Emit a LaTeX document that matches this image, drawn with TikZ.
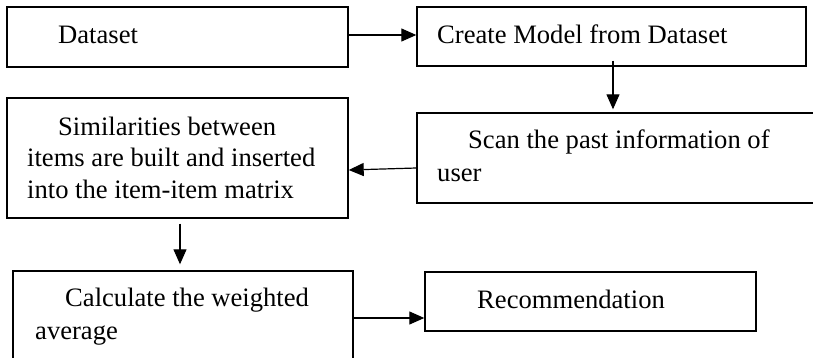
\documentclass[tikz,border=0pt]{standalone}
\usepackage{fontspec}
\setmainfont{Liberation Serif}
\usetikzlibrary{arrows.meta}

\tikzset{
  stepbox/.style={draw=black, line width=1.4pt, inner sep=0pt, minimum width=#1},
  boxtext/.style={anchor=base west, inner sep=0pt, font=\fontsize{26.6}{32}\selectfont},
  arr/.style={line width=1.2pt, -{Triangle[length=15pt,width=13pt]}}
}

\begin{document}
\begin{tikzpicture}[x=1pt, y=-1pt]
  \useasboundingbox (0,0) rectangle (813,357);
  \clip (0,0) rectangle (813,357);

  % process boxes
  \node[stepbox=341pt, minimum height=60pt] (B1) at (177.5,37)   {};
  \node[stepbox=389pt, minimum height=59pt] (B2) at (611.5,36.5) {};
  \node[stepbox=413pt, minimum height=90pt] (B3) at (623.5,158)  {};
  \node[stepbox=341pt, minimum height=120pt] (B4) at (177.5,158) {};
  \node[stepbox=340pt, minimum height=99pt] (B5) at (183,320.5)  {};
  \node[stepbox=331pt, minimum height=59pt] (B6) at (590.5,301.5) {};

  % box labels
  \node[boxtext] (t1)  at (58,43.3)   {Dataset};
  \node[boxtext] (t2)  at (437,43.3)  {Create Model from Dataset};
  \node[boxtext] (t3a) at (468,148.3) {Scan the past information of};
  \node[boxtext] (t3b) at (437,181.7) {user};
  \node[boxtext] (t4a) at (58,135)    {Similarities between};
  \node[boxtext] (t4b) at (27,166.7)  {items are built and inserted};
  \node[boxtext] (t4c) at (27,198.3)  {into the item-item matrix};
  \node[boxtext] (t5a) at (65,306.7)  {Calculate the weighted};
  \node[boxtext] (t5b) at (35,339)    {average};
  \node[boxtext] (t6)  at (477,308)   {Recommendation};

  % connectors
  \draw[arr] ([yshift=2pt]B1.east) -- ([yshift=1.5pt]B2.west);
  \draw[arr] ([xshift=1.5pt,yshift=6pt]B2.south) -- ([xshift=-10.5pt,yshift=3pt]B3.north);
  \draw[arr] ([yshift=-10pt]B3.west) -- ([yshift=-12pt]B4.east);
  \draw[arr] ([xshift=2.5pt,yshift=-5pt]B4.south) -- ([xshift=-3pt,yshift=6pt]B5.north);
  \draw[arr] ([yshift=2.5pt]B5.east) -- ([yshift=-16.5pt]B6.west);
\end{tikzpicture}
\end{document}
